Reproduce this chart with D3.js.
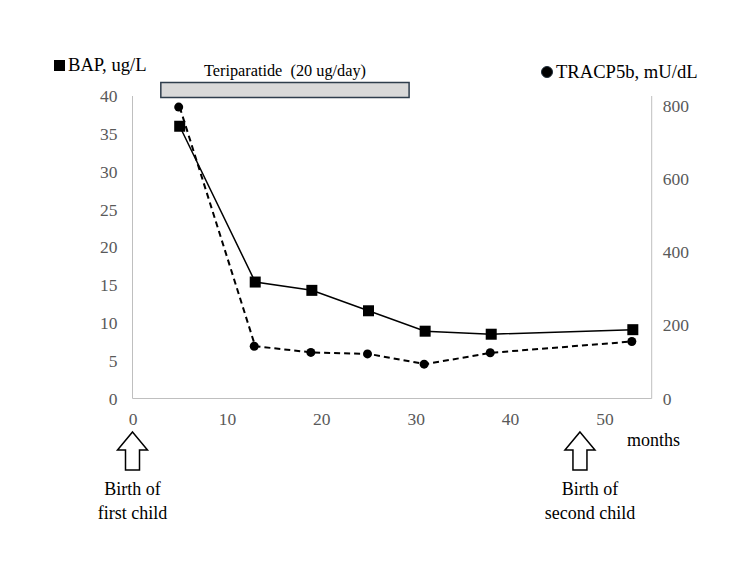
<!DOCTYPE html>
<html>
<head>
<meta charset="utf-8">
<script src="https://cdn.jsdelivr.net/npm/d3@7"></script>
<style>
  html, body { margin: 0; padding: 0; background: #fff; }
  text { font-family: "Liberation Serif", "Times New Roman", serif; white-space: pre; }
</style>
</head>
<body>
<svg id="chart" width="750" height="563"></svg>
<script>
// ---- Data ----
const months = [5, 13, 19, 25, 31, 38, 53];
const bapValues = [36.0, 15.4, 14.3, 11.6, 8.9, 8.5, 9.1];           // ug/L (left axis)
const tracpValues = [797, 143, 126, 122, 94, 125, 156];              // mU/dL (right axis)
const xTicks = [0, 10, 20, 30, 40, 50];
const leftTicks = [0, 5, 10, 15, 20, 25, 30, 35, 40];
const rightTicks = [0, 200, 400, 600, 800];
const treatment = { label: "Teriparatide  (20 ug/day)", start: 3, end: 29.3 };
const events = [
  { month: 0, lines: ["Birth of", "first child"], textDx: 0 },
  { month: 47.4, lines: ["Birth of", "second child"], textDx: 10 }
];
const leftTitle = "BAP, ug/L";
const rightTitle = "TRACP5b, mU/dL";
const xTitle = "months";

// ---- Layout ----
const svg = d3.select("#chart");
const plot = { left: 132.5, right: 651.7, top: 96, bottom: 398.5 };

const x = d3.scaleLinear().domain([0, 55]).range([plot.left, plot.right]);
const yL = d3.scaleLinear().domain([0, 40]).range([plot.bottom, plot.top]);
const yR = d3.scaleLinear().domain([0, 800]).range([plot.bottom, 106]);

const axisColor = "#bfbfbf";
const tickColor = "#595959";

// axes lines
svg.append("line").attr("x1", plot.left).attr("x2", plot.right)
  .attr("y1", plot.bottom).attr("y2", plot.bottom)
  .attr("stroke", axisColor).attr("stroke-width", 1);
svg.append("line").attr("x1", plot.left).attr("x2", plot.left)
  .attr("y1", plot.top).attr("y2", plot.bottom)
  .attr("stroke", axisColor).attr("stroke-width", 1);
svg.append("line").attr("x1", plot.right).attr("x2", plot.right)
  .attr("y1", plot.top).attr("y2", plot.bottom)
  .attr("stroke", axisColor).attr("stroke-width", 1);

// tick labels via d3 axes (lines hidden)
const gx = svg.append("g").attr("transform", `translate(0,${plot.bottom})`)
  .call(d3.axisBottom(x).tickValues(xTicks).tickSize(0).tickPadding(14));
const gl = svg.append("g").attr("transform", `translate(${plot.left},0)`)
  .call(d3.axisLeft(yL).tickValues(leftTicks).tickSize(0).tickPadding(15));
const gr = svg.append("g").attr("transform", `translate(${plot.right},0)`)
  .call(d3.axisRight(yR).tickValues(rightTicks).tickSize(0).tickPadding(11));
[gx, gl, gr].forEach(g => {
  g.select(".domain").remove();
  g.selectAll("text").attr("fill", tickColor).style("font-size", "17.5px")
    .style("font-family", "'Liberation Serif', 'Times New Roman', serif");
});

// treatment bar
svg.append("rect")
  .attr("x", x(treatment.start)).attr("width", x(treatment.end) - x(treatment.start))
  .attr("y", 82.5).attr("height", 15)
  .attr("fill", "#d9d9d9").attr("stroke", "#2e3d4c").attr("stroke-width", 1.5);
svg.append("text").attr("x", (x(treatment.start) + x(treatment.end)) / 2).attr("y", 76)
  .attr("text-anchor", "middle").style("font-size", "16.3px").attr("fill", "#000")
  .text(treatment.label);

// series lines
const lineL = d3.line().x((d, i) => x(months[i])).y(d => yL(d));
const lineR = d3.line().x((d, i) => x(months[i])).y(d => yR(d));

svg.append("path").datum(tracpValues).attr("d", lineR)
  .attr("fill", "none").attr("stroke", "#000").attr("stroke-width", 2)
  .attr("stroke-dasharray", "6,4");
svg.append("path").datum(bapValues).attr("d", lineL)
  .attr("fill", "none").attr("stroke", "#000").attr("stroke-width", 1.5);

const sq = 11;
svg.selectAll("rect.bap").data(bapValues).enter().append("rect")
  .attr("class", "bap")
  .attr("x", (d, i) => x(months[i]) - sq / 2).attr("y", d => yL(d) - sq / 2)
  .attr("width", sq).attr("height", sq).attr("fill", "#000");
svg.selectAll("circle.tr").data(tracpValues).enter().append("circle")
  .attr("class", "tr")
  .attr("cx", (d, i) => x(months[i]) - 1).attr("cy", d => yR(d))
  .attr("r", 4.5).attr("fill", "#000");

// titles
svg.append("rect").attr("x", 54).attr("y", 60).attr("width", 11).attr("height", 11).attr("fill", "#000");
svg.append("text").attr("x", 68).attr("y", 71).style("font-size", "18.6px").attr("fill", "#000").text(leftTitle);
svg.append("circle").attr("cx", 547).attr("cy", 72).attr("r", 5.5).attr("fill", "#000").attr("stroke", "#1f2d3a");
svg.append("text").attr("x", 556).attr("y", 78).style("font-size", "18.6px").attr("fill", "#000").text(rightTitle);
svg.append("text").attr("x", 627).attr("y", 446).style("font-size", "18px").attr("fill", "#000").text(xTitle);

// event arrows
const arrowPath = (cx) => {
  const tip = 432, base = 450, bottom = 470, hw = 15, sw = 7;
  return `M${cx},${tip} L${cx + hw},${base} L${cx + sw},${base} L${cx + sw},${bottom} ` +
         `L${cx - sw},${bottom} L${cx - sw},${base} L${cx - hw},${base} Z`;
};
events.forEach(ev => {
  const cx = x(ev.month);
  svg.append("path").attr("d", arrowPath(cx))
    .attr("fill", "#fff").attr("stroke", "#000").attr("stroke-width", 1.5);
  ev.lines.forEach((ln, j) => {
    svg.append("text").attr("x", cx + ev.textDx).attr("y", 495 + j * 24)
      .attr("text-anchor", "middle").style("font-size", "18px").attr("fill", "#000").text(ln);
  });
});
</script>
</body>
</html>
